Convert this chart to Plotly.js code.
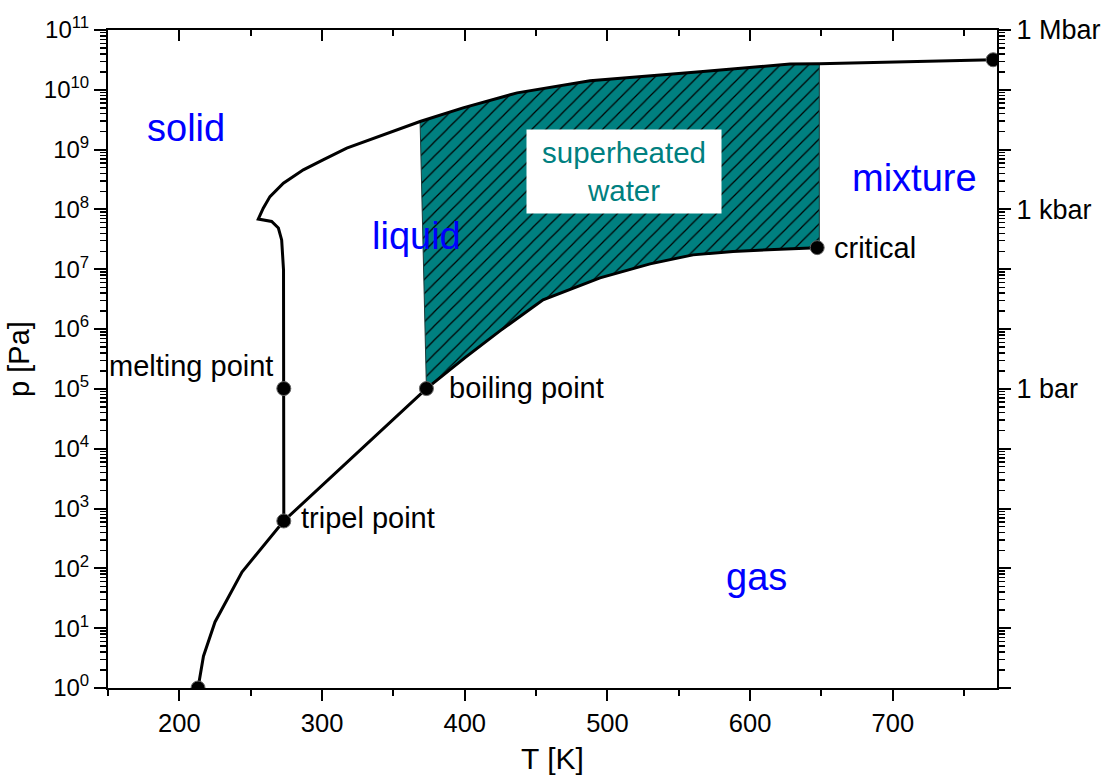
<!DOCTYPE html>
<html>
<head>
<meta charset="utf-8">
<script src="https://cdn.plot.ly/plotly-3.0.1.min.js"></script>
<style>html,body{margin:0;padding:0;background:#fff;}#chart{width:1104px;height:776px;}</style>
</head>
<body>
<div id="chart"></div>
<script>
// ---- data ----
// sublimation curve (T in K, p in Pa)
const T_sub = [213.1, 216.9, 225.0, 243.9, 273.2];
const p_sub = [1, 3.4, 12.7, 87, 620];
// melting curve and its continuation to high pressure
const T_melt = [273.2, 273.2, 273.0, 271.7, 269.4, 264.7, 255.3, 258.8, 263.5, 272.9, 286.9, 300.7, 317.3, 368.7, 398.8, 436.7, 487.8, 564.9, 628.0, 648.5, 770.3];
const p_melt = [620, 1.013e5, 9.8e6, 3.1e7, 4.9e7, 6.3e7, 6.9e7, 1.05e8, 1.64e8, 2.75e8, 4.6e8, 6.75e8, 1.06e9, 2.95e9, 5.0e9, 8.9e9, 1.42e10, 2.0e10, 2.69e10, 2.72e10, 3.18e10];
// vapour pressure curve (tripel point -> critical point)
const T_vap = [273.2, 373.15, 400.9, 424.7, 454.9, 494.8, 529.9, 560.0, 588.0, 647.0];
const p_vap = [620, 1.013e5, 3.43e5, 9.33e5, 3.08e6, 7.18e6, 1.23e7, 1.74e7, 1.99e7, 2.3e7];
// lower right corner of the hatched region
const cornerT = [648.5];
const cornerP = [2.55e7];
// marked points
const pointNames = ["", "tripel point", "melting point", "boiling point", "critical", ""];
const pointT = [213.1, 273.2, 273.2, 373.15, 647.0, 770.3];
const pointP = [1, 620, 1.013e5, 1.013e5, 2.3e7, 3.18e10];
// tick labels
const decades = [1e0,1e1,1e2,1e3,1e4,1e5,1e6,1e7,1e8,1e9,1e10,1e11];
const leftTickText = ["10<sup>0</sup>","10<sup>1</sup>","10<sup>2</sup>","10<sup>3</sup>","10<sup>4</sup>","10<sup>5</sup>","10<sup>6</sup>","10<sup>7</sup>","10<sup>8</sup>","10<sup>9</sup>","10<sup>10</sup>","10<sup>11</sup>"];
const rightTickText = ["","","","","","1 bar","","","1 kbar","","","1 Mbar"];

// ---- build ----
const minorLog = [];
for (let d = 0; d < 11; d++) for (let k = 2; k <= 9; k++) minorLog.push(k * Math.pow(10, d));

// hatched polygon: melting curve top edge (T 368.7..648.5), corner, vapour curve back to boiling point
const fillT = [], fillP = [];
for (let i = 13; i <= 19; i++) { fillT.push(T_melt[i]); fillP.push(p_melt[i]); }
fillT.push(cornerT[0]); fillP.push(cornerP[0]);
for (let i = T_vap.length - 1; i >= 1; i--) { fillT.push(T_vap[i]); fillP.push(p_vap[i]); }
fillT.push(T_melt[13]); fillP.push(p_melt[13]);

const FONT = "Arial, 'Liberation Sans', sans-serif";
const TEAL = "#008080";

const traces = [
  {x: fillT, y: fillP, mode: "lines", fill: "toself", fillcolor: TEAL,
   fillpattern: {shape: "/", bgcolor: TEAL, fgcolor: "#000", size: 10, solidity: 0.12},
   line: {color: "#1a3a3a", width: 1}, hoverinfo: "skip", showlegend: false},
  {x: T_sub.concat(T_melt.slice(1)), y: p_sub.concat(p_melt.slice(1)), mode: "lines",
   line: {color: "#000", width: 3}, showlegend: false},
  {x: T_vap, y: p_vap, mode: "lines", line: {color: "#000", width: 3}, showlegend: false},
  {x: pointT, y: pointP, text: pointNames, mode: "markers",
   marker: {color: "#000", size: 14, line: {color: "#666", width: 1}}, showlegend: false},
  {x: [], y: [], xaxis: "x2", yaxis: "y2", mode: "markers", showlegend: false}
];

const annFont = {family: FONT, size: 29, color: "#000"};
const blueFont = {family: FONT, size: 38, color: "#0000ff"};
const annotations = [
  {x: 204.7, y: 9.365, text: "solid", font: blueFont},
  {x: 365.9, y: 7.56, text: "liquid", font: blueFont},
  {x: 714.9, y: 8.53, text: "mixture", font: blueFont},
  {x: 604.2, y: 1.856, text: "gas", font: blueFont},
  {x: 267.0, y: 5.385, text: "melting point", xanchor: "right", font: annFont},
  {x: 387.5, y: 5.02, text: "boiling point", xanchor: "left", font: annFont},
  {x: 284.0, y: 2.843, text: "tripel point", xanchor: "left", font: annFont},
  {x: 657.5, y: 7.36, text: "critical", xanchor: "left", font: annFont},
  {x: 511.6, y: 8.634, text: "superheated<br>water", bgcolor: "#fff", width: 190, height: 79,
   borderpad: 2, font: {family: FONT, size: 29.5, color: TEAL}}
].map(a => Object.assign({xref: "x", yref: "y", showarrow: false}, a));

const tickFont = {family: FONT, size: 25.5, color: "#000"};
const layout = {
  width: 1104, height: 776,
  margin: {l: 108, r: 107, t: 30, b: 88, pad: 0},
  paper_bgcolor: "#fff", plot_bgcolor: "#fff",
  font: {family: FONT, color: "#000"},
  showlegend: false,
  xaxis: {range: [150, 773], tick0: 0, dtick: 100, ticks: "outside", ticklen: 11, tickwidth: 2,
          tickcolor: "#000", showline: true, linewidth: 2, linecolor: "#000", showgrid: false, zeroline: false,
          minor: {tick0: 0, dtick: 50, ticks: "outside", ticklen: 6, tickwidth: 2, tickcolor: "#000"},
          tickfont: tickFont, title: {text: "T [K]", font: {family: FONT, size: 30}, standoff: 12}},
  xaxis2: {range: [150, 773], overlaying: "x", side: "top", anchor: "y", tick0: 0, dtick: 100,
           ticks: "inside", ticklen: 11, tickwidth: 2, tickcolor: "#000", showticklabels: false,
           showline: true, linewidth: 2, linecolor: "#000", showgrid: false, zeroline: false,
           minor: {tick0: 0, dtick: 50, ticks: "inside", ticklen: 6, tickwidth: 2, tickcolor: "#000"}},
  yaxis: {type: "log", range: [0, 11], tickmode: "array", tickvals: decades, ticktext: leftTickText,
          ticks: "outside", ticklen: 12, tickwidth: 2, tickcolor: "#000", showline: true, linewidth: 2,
          linecolor: "#000", showgrid: false, zeroline: false,
          minor: {tickmode: "array", tickvals: minorLog, ticks: "outside", ticklen: 6, tickwidth: 1.5, tickcolor: "#000"},
          tickfont: {family: FONT, size: 24, color: "#000"},
          title: {text: "p [Pa]", font: {family: FONT, size: 29}, standoff: 6}},
  yaxis2: {type: "log", range: [0, 11], overlaying: "y", side: "right", anchor: "x", tickmode: "array",
           tickvals: decades, ticktext: rightTickText, ticks: "outside", ticklen: 12, tickwidth: 2,
           tickcolor: "#000", showline: true, linewidth: 2, linecolor: "#000", showgrid: false, zeroline: false,
           minor: {tickmode: "array", tickvals: minorLog, ticks: "outside", ticklen: 6, tickwidth: 1.5, tickcolor: "#000"},
           tickfont: {family: FONT, size: 27, color: "#000"}},
  annotations: annotations
};

Plotly.newPlot("chart", traces, layout, {displayModeBar: false, staticPlot: true});
</script>
</body>
</html>
